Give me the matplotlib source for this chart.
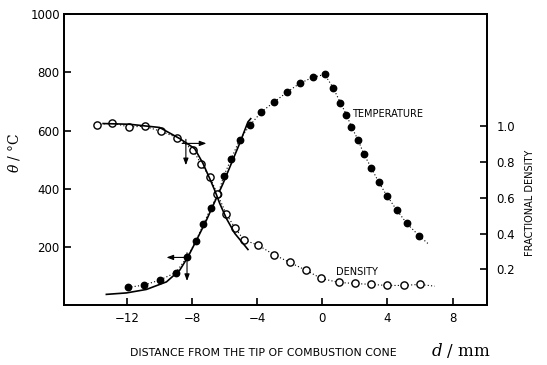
import matplotlib
matplotlib.use("Agg")
import matplotlib.pyplot as plt

plt.rcParams['font.family'] = ['DejaVu Sans']
plt.rcParams['mathtext.fontset'] = 'dejavuserif'

# temperature (filled circles), d / mm and theta / C
temp_d = [-11.92, -10.94, -9.98, -8.99, -8.29, -7.75, -7.29, -6.85, -6.40, -6.05,
          -5.58, -5.07, -4.44, -3.74, -2.96, -2.14, -1.39, -0.59, 0.15, 0.66,
          1.11, 1.48, 1.79, 2.19, 2.56, 3.01, 3.46, 3.97, 4.58, 5.19, 5.93]
temp_t = [61, 69, 86, 112, 165, 221, 278, 334, 381, 443,
          504, 569, 618, 664, 698, 733, 762, 783, 793, 748,
          696, 655, 613, 569, 518, 472, 423, 376, 326, 281, 239]
# dotted line runs a bit past the last point
temp_tail_d = 6.48
temp_tail_t = 212

# fractional density (open circles)
dens_d = [-13.82, -12.88, -11.88, -10.90, -9.92, -8.91, -7.93, -7.42, -6.91, -6.44,
          -5.88, -5.34, -4.81, -3.94, -2.98, -2.00, -1.02, -0.06, 1.01, 1.99,
          2.97, 3.97, 4.99, 5.98]
dens_f = [1.009, 1.018, 0.996, 1.000, 0.972, 0.937, 0.866, 0.787, 0.717, 0.622,
          0.507, 0.430, 0.365, 0.335, 0.283, 0.239, 0.196, 0.149, 0.127, 0.121,
          0.116, 0.110, 0.110, 0.116]
dens_tail_d = 6.9
dens_tail_f = 0.106

# calculated curves (solid lines)
calc_t_d = [-13.25, -12.02, -10.79, -9.56, -8.75, -8.24, -7.72, -7.11, -6.60,
            -6.09, -5.58, -5.07, -4.56, -4.39]
calc_t = [37, 42, 54, 80, 120, 166, 223, 292, 355, 418, 487, 556, 630, 641]
calc_f_d = [-13.45, -11.82, -9.98, -8.75, -7.83, -7.32, -6.91, -6.60, -6.29,
            -5.88, -5.37, -4.56]
calc_f = [1.015, 1.011, 0.993, 0.931, 0.875, 0.792, 0.708, 0.642, 0.568,
          0.484, 0.401, 0.311]

fig = plt.figure(figsize=(5.47, 3.65), dpi=100)
ax = fig.add_axes([0.117, 0.164, 0.773, 0.797])
ax2 = ax.twinx()

ax.set_xlim(-15.85, 10.1)
ax.set_ylim(0, 1000)
ax2.set_ylim(0, 1.626)

ax.plot(temp_d + [temp_tail_d], temp_t + [temp_tail_t], ls=(0, (1, 2)), color='k', lw=0.8)
ax.plot(temp_d, temp_t, 'o', color='k', ms=4.6)
ax.plot(calc_t_d, calc_t, '-', color='k', lw=1.2)

ax2.plot(dens_d + [dens_tail_d], dens_f + [dens_tail_f], ls=(0, (1, 2)), color='k', lw=0.8)
ax2.plot(dens_d, dens_f, 'o', mfc='white', mec='k', mew=1.0, ms=5.2)
ax2.plot(calc_f_d, calc_f, '-', color='k', lw=1.2)

# arrows showing which axis each curve belongs to
arr = dict(arrowstyle='-|>,head_length=0.4,head_width=0.15', color='k', lw=0.8,
           shrinkA=0, shrinkB=0)
ax.annotate('', xy=(-7.11, 556), xytext=(-8.6, 556), arrowprops=arr)
ax.annotate('', xy=(-8.37, 481), xytext=(-8.37, 570), arrowprops=arr)
ax.annotate('', xy=(-9.56, 164), xytext=(-8.1, 164), arrowprops=arr)
ax.annotate('', xy=(-8.30, 83), xytext=(-8.30, 180), arrowprops=arr)

ax.text(1.85, 656, 'TEMPERATURE', fontsize=7, ha='left', va='center')
ax.text(0.87, 114, 'DENSITY', fontsize=7, ha='left', va='center')

ax.set_xticks([-12, -8, -4, 0, 4, 8])
ax.set_xticklabels(['\u221212', '\u22128', '\u22124', '0', '4', '8'])
ax.set_yticks([200, 400, 600, 800, 1000])
ax.set_yticklabels(['200', '400', '600', '800', '1000'])
ax2.set_yticks([0.2, 0.4, 0.6, 0.8, 1.0])
ax2.set_yticklabels(['0.2', '0.4', '0.6', '0.8', '1.0'])

ax.tick_params(axis='both', direction='in', length=5, width=1.2, labelsize=8.5, pad=3)
ax.tick_params(axis='x', pad=5)
ax2.tick_params(axis='y', direction='in', length=5, width=1.2, labelsize=8.5, pad=7)
for a in (ax, ax2):
    for s in a.spines.values():
        s.set_linewidth(1.3)

fig.text(14 / 547, 1 - 153 / 365, r'$\theta$ / °C', rotation=90, fontsize=10,
         ha='center', va='center', family='DejaVu Serif')
fig.text(530 / 547, 1 - 203 / 365, 'FRACTIONAL DENSITY', rotation=90, fontsize=7,
         ha='center', va='center')
fig.text(130 / 547, 1 - 353 / 365, 'DISTANCE FROM THE TIP OF COMBUSTION CONE',
         fontsize=7.8, ha='left', va='center')
fig.text(431 / 547, 1 - 351 / 365, r'$d$ / mm', fontsize=12, ha='left', va='center',
         family='DejaVu Serif')

fig.savefig('out.png', dpi=100)
